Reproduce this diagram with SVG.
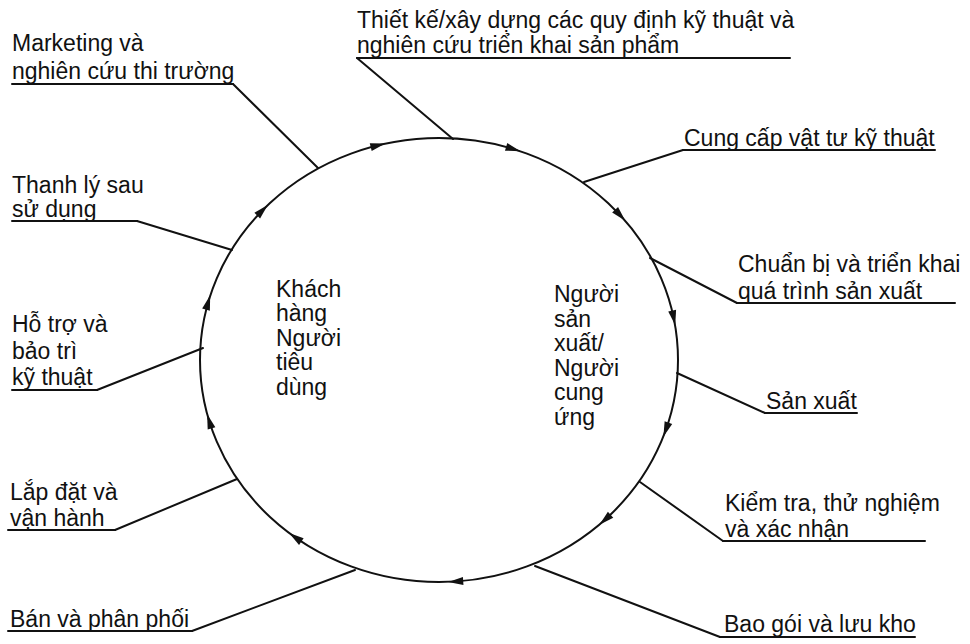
<svg xmlns="http://www.w3.org/2000/svg" width="970" height="644" viewBox="0 0 970 644">
<style>
text{font-family:"Liberation Sans",Arial,sans-serif;font-size:23px;fill:#111}
.ln{stroke:#111;stroke-width:2;fill:none;stroke-linecap:round}
.ah{fill:#111}
</style>
<defs>
<path id="arr" d="M7.5,0 L-7.5,-4 L-7.5,4 Z"/>
</defs>
<rect width="970" height="644" fill="#fff"/>
<g id="cycle">
<ellipse class="ln" cx="439" cy="360" rx="239" ry="222"/>
<g class="ah">
<use href="#arr" transform="translate(262.5,210.3) rotate(-45.5)"/>
<use href="#arr" transform="translate(208.1,302.5) rotate(-73.9)"/>
<use href="#arr" transform="translate(209.3,421.2) rotate(-107.2)"/>
<use href="#arr" transform="translate(295.2,537.3) rotate(-145)"/>
<use href="#arr" transform="translate(455.7,581.5) rotate(176.3)"/>
<use href="#arr" transform="translate(605,519.7) rotate(138.1)"/>
<use href="#arr" transform="translate(665.9,429.7) rotate(109.6)"/>
<use href="#arr" transform="translate(673.7,318) rotate(78.3)"/>
<use href="#arr" transform="translate(620.2,215.2) rotate(47.2)"/>
<use href="#arr" transform="translate(513.3,149) rotate(16.9)"/>
<use href="#arr" transform="translate(378,145.4) rotate(-13.8)"/>
</g>
</g>
<g id="connectors" class="ln">
<line x1="233" y1="84" x2="318" y2="168"/>
<line x1="357" y1="58" x2="453" y2="139"/>
<line x1="683" y1="150" x2="584" y2="182"/>
<line x1="137" y1="221" x2="232" y2="250"/>
<line x1="737" y1="303" x2="650" y2="258"/>
<line x1="97" y1="390" x2="203" y2="348"/>
<line x1="765" y1="413" x2="677" y2="373"/>
<line x1="723" y1="541" x2="640" y2="482"/>
<line x1="115" y1="530" x2="237" y2="479"/>
<line x1="192" y1="631" x2="355" y2="570"/>
<line x1="720" y1="637" x2="535" y2="566"/>
</g>
<g id="marketing">
<text x="12" y="51">Marketing và</text>
<text x="12" y="79">nghiên cứu thi trường</text>
<line class="ln" x1="12" y1="84" x2="233" y2="84"/>
</g>
<g id="thiet-ke">
<text x="357" y="28">Thiết kế/xây dựng các quy định kỹ thuật và</text>
<text x="357" y="53">nghiên cứu triển khai sản phẩm</text>
<line class="ln" x1="357" y1="58" x2="790" y2="58"/>
</g>
<g id="cung-cap">
<text x="684" y="146">Cung cấp vật tư kỹ thuật</text>
<line class="ln" x1="683" y1="150" x2="935" y2="150"/>
</g>
<g id="thanh-ly">
<text x="12" y="193">Thanh lý sau</text>
<text x="12" y="217">sử dụng</text>
<line class="ln" x1="12" y1="221" x2="137" y2="221"/>
</g>
<g id="chuan-bi">
<text x="738" y="272">Chuẩn bị và triển khai</text>
<text x="738" y="299">quá trình sản xuất</text>
<line class="ln" x1="737" y1="303" x2="955" y2="303"/>
</g>
<g id="ho-tro">
<text x="12" y="332">Hỗ trợ và</text>
<text x="12" y="359">bảo trì</text>
<text x="12" y="385">kỹ thuật</text>
<line class="ln" x1="12" y1="390" x2="97" y2="390"/>
</g>
<g id="san-xuat">
<text x="766" y="409">Sản xuất</text>
<line class="ln" x1="765" y1="413" x2="857" y2="413"/>
</g>
<g id="kiem-tra">
<text x="725" y="511">Kiểm tra, thử nghiệm</text>
<text x="725" y="537">và xác nhận</text>
<line class="ln" x1="723" y1="541" x2="925" y2="541"/>
</g>
<g id="lap-dat">
<text x="10" y="500">Lắp đặt và</text>
<text x="10" y="526">vận hành</text>
<line class="ln" x1="8" y1="530" x2="115" y2="530"/>
</g>
<g id="ban">
<text x="10" y="627">Bán và phân phối</text>
<line class="ln" x1="8" y1="631" x2="192" y2="631"/>
</g>
<g id="bao-goi">
<text x="724" y="632">Bao gói và lưu kho</text>
<line class="ln" x1="720" y1="637" x2="915" y2="637"/>
</g>
<g id="khach-hang">
<text x="276" y="297">Khách</text>
<text x="276" y="321">hàng</text>
<text x="276" y="346">Người</text>
<text x="276" y="370">tiêu</text>
<text x="276" y="395">dùng</text>
</g>
<g id="nguoi-san-xuat">
<text x="554" y="302">Người</text>
<text x="554" y="327">sản</text>
<text x="554" y="351">xuất/</text>
<text x="554" y="376">Người</text>
<text x="554" y="400">cung</text>
<text x="554" y="425">ứng</text>
</g>
</svg>
